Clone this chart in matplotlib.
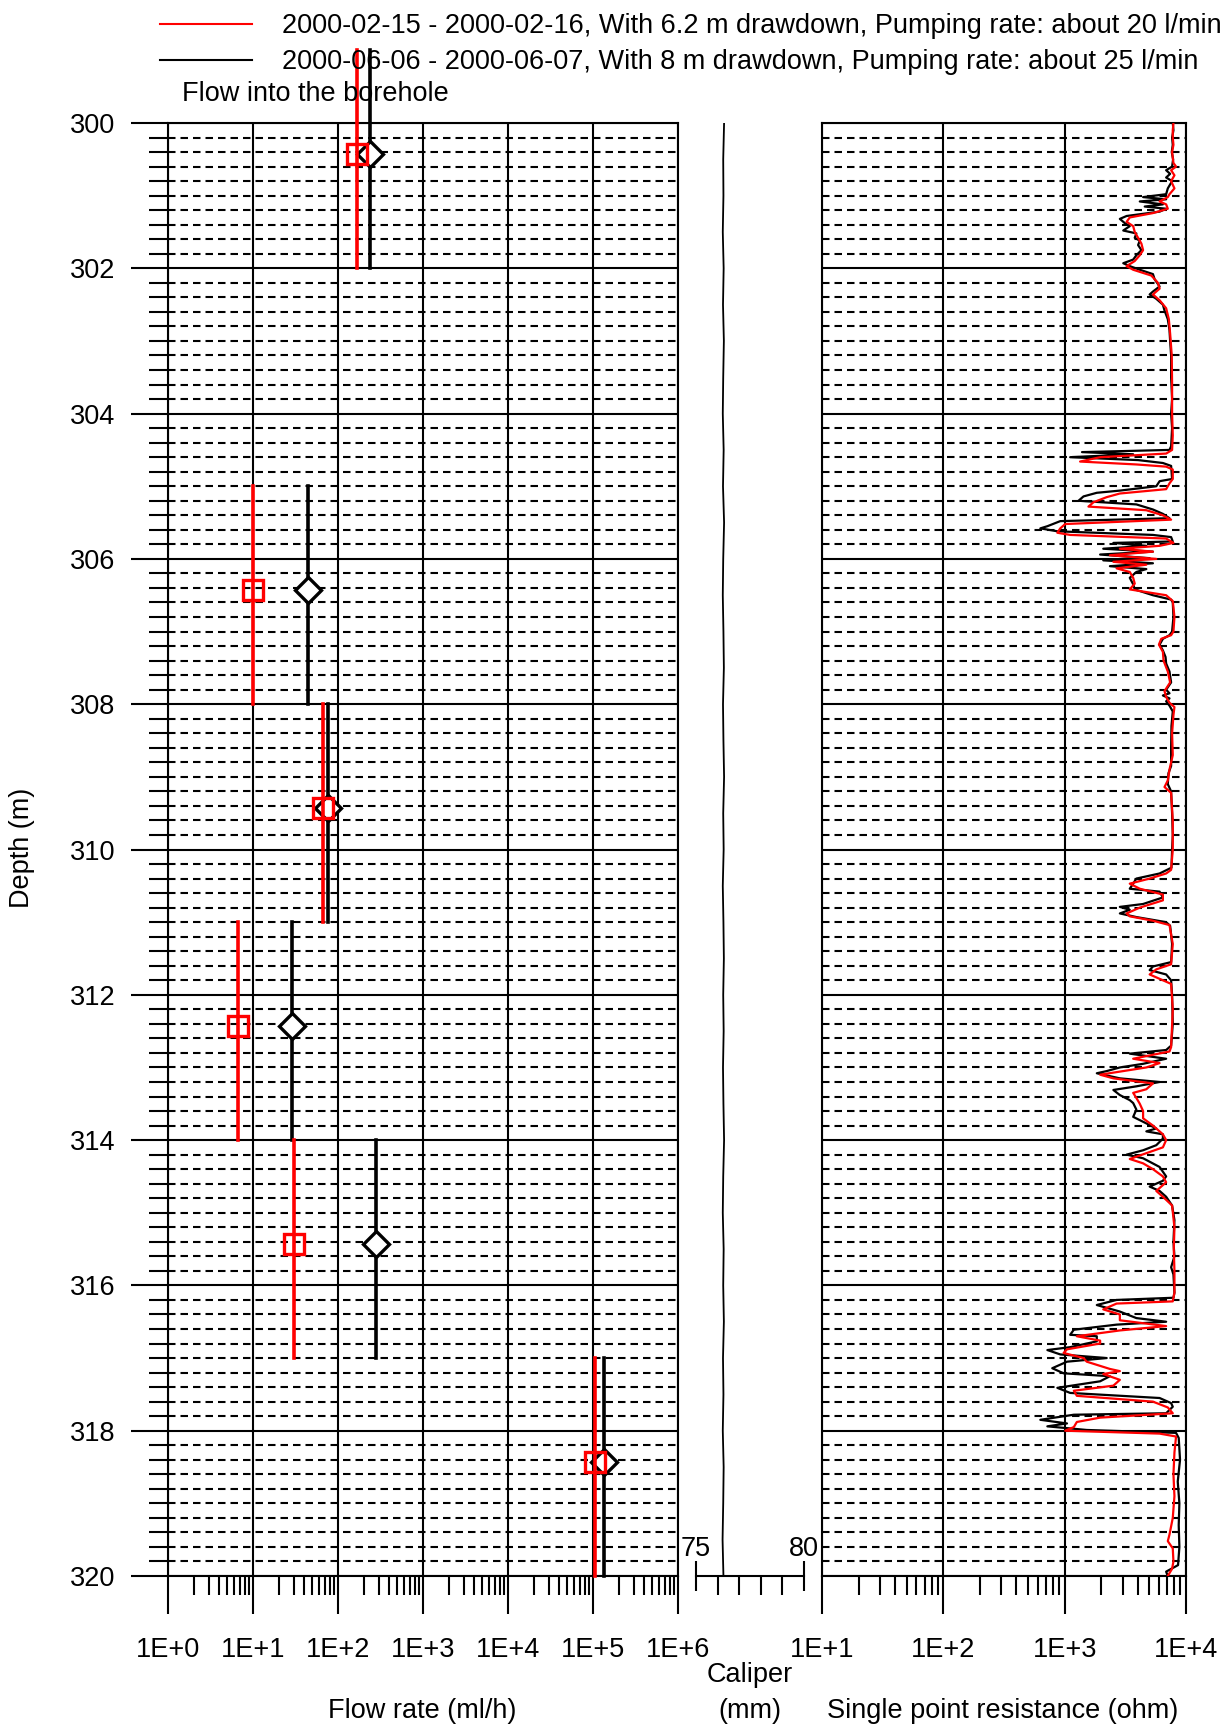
import numpy as np
import matplotlib
matplotlib.use("Agg")
import matplotlib.pyplot as plt
from matplotlib.lines import Line2D
from matplotlib.ticker import LogLocator, MultipleLocator, NullFormatter

plt.rcParams['font.family'] = ['Liberation Sans', 'DejaVu Sans']

# ── flow into the borehole (test sections, ml/h) ──
sec_top = [299, 305, 308, 311, 314, 317]
sec_bot = [302, 308, 311, 314, 317, 320]
mark_depth = [300.43, 306.43, 309.43, 312.43, 315.43, 318.43]
flow_feb = [166, 10.1, 66, 6.6, 30.3, 1.07e5]
flow_jun = [235, 44.7, 76.5, 28.6, 278, 1.33e5]

lbl_feb = "2000-02-15 - 2000-02-16, With 6.2 m drawdown, Pumping rate: about 20 l/min"
lbl_jun = "2000-06-06 - 2000-06-07, With 8 m drawdown, Pumping rate: about 25 l/min"

# ── caliper (mm) ──
cal_depth = [300.0 + 0.5 * i for i in range(41)]
cal_mm = [76.30, 76.26, 76.27, 76.24, 76.28, 76.25, 76.29, 76.26, 76.24, 76.28,
          76.25, 76.30, 76.26, 76.24, 76.27, 76.29, 76.25, 76.27, 76.30, 76.26,
          76.28, 76.24, 76.27, 76.29, 76.26, 76.28, 76.25, 76.27, 76.30, 76.26,
          76.24, 76.28, 76.26, 76.29, 76.25, 76.27, 76.24, 76.28, 76.26, 76.23, 76.27]

# ── single point resistance (ohm), June run (black) ──
spr_jun_depth = [
    300.00, 300.10, 300.20, 300.30, 300.40, 300.50, 300.60, 300.65, 300.70, 300.75,
    300.80, 300.90, 300.98, 301.02, 301.05, 301.08, 301.12, 301.15, 301.18, 301.22,
    301.28, 301.32, 301.38, 301.42, 301.48, 301.52, 301.58, 301.62, 301.68, 301.75,
    301.82, 301.88, 301.93, 301.97, 302.02, 302.08, 302.15, 302.25, 302.32, 302.36,
    302.42, 302.50, 302.58, 302.70, 302.85, 303.00, 303.20, 303.50, 303.80, 304.00,
    304.20, 304.45, 304.50, 304.53, 304.56, 304.60, 304.64, 304.68, 304.72, 304.90,
    304.93, 305.00, 305.06, 305.09, 305.14, 305.20, 305.25, 305.32, 305.38, 305.44,
    305.48, 305.55, 305.58, 305.62, 305.67, 305.70, 305.76, 305.78, 305.82, 305.86,
    305.90, 305.94, 305.99, 306.02, 306.06, 306.10, 306.14, 306.18, 306.26, 306.35,
    306.42, 306.50, 306.56, 306.60, 306.80, 307.00, 307.05, 307.10, 307.18, 307.26,
    307.35, 307.44, 307.55, 307.70, 307.80, 307.85, 307.88, 307.92, 307.96, 308.02,
    308.10, 308.30, 308.60, 308.85, 308.95, 309.10, 309.20, 309.50, 309.80, 310.00,
    310.25, 310.33, 310.40, 310.47, 310.54, 310.58, 310.66, 310.75, 310.79, 310.83,
    310.88, 310.93, 311.00, 311.05, 311.30, 311.55, 311.61, 311.66, 311.72, 311.80,
    312.00, 312.40, 312.70, 312.76, 312.81, 312.88, 312.95, 313.00, 313.05, 313.08,
    313.15, 313.20, 313.26, 313.31, 313.38, 313.45, 313.49, 313.58, 313.68, 313.77,
    313.84, 313.88, 313.92, 313.98, 314.07, 314.14, 314.20, 314.25, 314.37, 314.50,
    314.56, 314.64, 314.70, 314.78, 314.90, 315.10, 315.40, 315.60, 315.75, 315.85,
    316.10, 316.17, 316.20, 316.27, 316.36, 316.45, 316.50, 316.54, 316.61, 316.68,
    316.70, 316.77, 316.85, 316.89, 316.95, 317.00, 317.05, 317.14, 317.21, 317.25,
    317.32, 317.41, 317.48, 317.55, 317.62, 317.67, 317.76, 317.78, 317.85, 317.90,
    317.94, 317.99, 318.03, 318.10, 318.40, 318.70, 319.00, 319.30, 319.60, 319.85,
    319.94, 320.00]
spr_jun_ohm = [
    7780, 7880, 7680, 7780, 7630, 7830, 7680, 6860, 7400, 6860,
    7680, 7080, 6860, 4430, 6860, 4160, 6450, 4570, 6860, 6060,
    3240, 2850, 3140, 3440, 3040, 3900, 3780, 4160, 4030, 4290,
    3900, 3670, 3040, 3440, 4160, 5340, 5510, 6060, 5340, 5020,
    5690, 6450, 6650, 7080, 7310, 7400, 7540, 7540, 7680, 7540,
    7680, 7540, 7310, 1390, 3670, 1110, 4030, 6450, 7540, 7680,
    6060, 5690, 2850, 1840, 1430, 1300, 3900, 5340, 6450, 7310,
    920, 720, 630, 870, 5340, 7540, 7780, 2520, 4710, 2080,
    5340, 1960, 5020, 2080, 5340, 2360, 4710, 3900, 3440, 3670,
    3780, 5340, 7540, 7780, 7880, 7680, 7310, 6450, 6060, 6450,
    6780, 6860, 7310, 7540, 6860, 7310, 6450, 7310, 6860, 7310,
    7780, 7590, 7540, 7540, 7170, 7080, 7540, 7680, 7780, 7680,
    7590, 6060, 3900, 3670, 3440, 6060, 6450, 4430, 2850, 3440,
    2850, 3900, 6860, 7400, 7680, 7540, 5340, 5020, 6860, 7540,
    7680, 7780, 7540, 6860, 3440, 6860, 4430, 2850, 2220, 1840,
    2850, 6060, 3900, 2520, 2850, 3440, 3670, 3900, 3670, 4710,
    5690, 4710, 6450, 6450, 5690, 4430, 3240, 4430, 6060, 6860,
    6450, 5020, 6060, 6860, 7680, 8030, 7880, 8030, 7540, 7880,
    8030, 7880, 2680, 1840, 2850, 3900, 6860, 2680, 1190, 1110,
    1840, 1840, 1110, 720, 920, 2220, 1045, 790, 980, 2360,
    1960, 870, 1110, 6060, 7540, 7780, 6860, 1190, 630, 1045,
    720, 1520, 8280, 8710, 8930, 8550, 8820, 8710, 8820, 8600,
    6860, 7080]

# ── single point resistance (ohm), February run (red) ──
spr_feb_depth = [
    300.00, 300.10, 300.20, 300.30, 300.40, 300.55, 300.60, 300.65, 300.72, 300.80,
    300.90, 300.98, 301.02, 301.08, 301.12, 301.18, 301.24, 301.30, 301.36, 301.42,
    301.50, 301.58, 301.66, 301.75, 301.82, 301.90, 301.97, 302.02, 302.10, 302.20,
    302.28, 302.36, 302.44, 302.55, 302.70, 302.90, 303.20, 303.60, 304.00, 304.30,
    304.50, 304.55, 304.60, 304.66, 304.70, 304.73, 304.77, 304.90, 304.96, 305.04,
    305.10, 305.15, 305.22, 305.28, 305.33, 305.40, 305.46, 305.52, 305.58, 305.64,
    305.67, 305.72, 305.78, 305.82, 305.86, 305.90, 305.95, 306.00, 306.04, 306.08,
    306.13, 306.18, 306.26, 306.34, 306.42, 306.50, 306.58, 306.80, 307.00, 307.05,
    307.10, 307.18, 307.28, 307.40, 307.55, 307.70, 307.82, 307.90, 307.98, 308.04,
    308.15, 308.40, 308.70, 308.90, 309.05, 309.14, 309.22, 309.60, 310.00, 310.28,
    310.33, 310.40, 310.47, 310.54, 310.62, 310.70, 310.80, 310.88, 310.92, 310.98,
    311.04, 311.30, 311.58, 311.65, 311.72, 311.78, 311.85, 312.20, 312.72, 312.78,
    312.88, 312.94, 313.00, 313.10, 313.15, 313.22, 313.30, 313.35, 313.42, 313.50,
    313.60, 313.70, 313.80, 313.92, 314.00, 314.10, 314.18, 314.26, 314.32, 314.40,
    314.50, 314.58, 314.70, 314.78, 314.90, 315.20, 315.50, 315.80, 316.10, 316.22,
    316.25, 316.33, 316.40, 316.48, 316.56, 316.62, 316.70, 316.76, 316.80, 316.88,
    316.93, 317.00, 317.05, 317.15, 317.18, 317.22, 317.30, 317.38, 317.45, 317.52,
    317.60, 317.68, 317.76, 317.82, 317.88, 317.95, 318.00, 318.04, 318.08, 318.30,
    318.60, 318.90, 319.20, 319.43, 319.52, 319.62, 319.80, 319.90, 320.00]
spr_feb_ohm = [
    7880, 7780, 7780, 7880, 7680, 7880, 8280, 7540, 8030, 7540,
    8030, 7310, 7080, 6060, 6860, 7080, 5340, 3440, 3240, 3670,
    3780, 4030, 4290, 4430, 4160, 3780, 3240, 3670, 5180, 5870,
    6060, 5340, 6060, 6860, 7220, 7400, 7630, 7680, 7680, 7780,
    7680, 6860, 1960, 1340, 3900, 6860, 7780, 7780, 7310, 6860,
    2850, 2220, 1730, 1570, 4710, 6450, 7540, 1010, 920, 870,
    1110, 6860, 7880, 6060, 2850, 5340, 2360, 5690, 2520, 4710,
    2680, 3440, 3670, 3780, 3440, 6860, 7780, 8030, 7880, 7540,
    6250, 5980, 6450, 6530, 7080, 7400, 6650, 6860, 7310, 8030,
    7880, 7680, 7780, 7310, 7080, 6650, 7540, 7780, 7780, 7540,
    6860, 5020, 3440, 4160, 6450, 6450, 4160, 3240, 3440, 5340,
    7310, 7780, 7540, 5690, 5020, 6060, 7540, 7780, 7540, 7310,
    3670, 6060, 4710, 1960, 2520, 5340, 4710, 3670, 3900, 4160,
    4430, 4430, 5340, 6450, 6860, 6450, 4710, 3440, 4430, 5340,
    6450, 6860, 5690, 6450, 7680, 8030, 7930, 8030, 8030, 7780,
    2680, 2080, 2850, 2850, 6860, 2850, 1260, 1960, 1960, 1045,
    980, 1430, 1520, 2360, 2850, 2080, 2850, 2520, 1190, 1260,
    5340, 7080, 7780, 1960, 1260, 1190, 1010, 6060, 8280, 8030,
    7880, 8030, 7780, 7310, 7080, 7780, 7880, 7680, 7080]

flow_ticks = [1e0, 1e1, 1e2, 1e3, 1e4, 1e5, 1e6]
flow_ticklabels = ["1E+0", "1E+1", "1E+2", "1E+3", "1E+4", "1E+5", "1E+6"]
spr_ticks = [1e1, 1e2, 1e3, 1e4]
spr_ticklabels = ["1E+1", "1E+2", "1E+3", "1E+4"]
depth_ticks = list(range(300, 321, 2))
cal_ticks = [75, 80]

FS = 19.5
LW = 1.5
DASH = (0, (3.6, 2.4))
W, H = 1225, 1727

fig = plt.figure(figsize=(W / 100, H / 100), dpi=100)
y0, hgt = 1 - 1576 / H, 1453 / H
ax1 = fig.add_axes([168 / W, y0, 510 / W, hgt])
ax2 = fig.add_axes([696 / W, y0, 108 / W, hgt])
ax3 = fig.add_axes([822 / W, y0, 364 / W, hgt])


def style_log_panel(ax, lo, hi, ticks, labels):
    ax.set_xscale("log")
    ax.set_xlim(lo, hi)
    ax.set_ylim(320, 300)
    ax.set_xticks(ticks, labels)
    ax.xaxis.set_minor_locator(LogLocator(base=10, subs=np.arange(2, 10), numticks=20))
    ax.xaxis.set_minor_formatter(NullFormatter())
    ax.yaxis.set_major_locator(MultipleLocator(2))
    ax.yaxis.set_minor_locator(MultipleLocator(0.2))
    ax.grid(which="major", color="k", lw=LW, ls="-")
    ax.grid(which="minor", axis="y", color="k", lw=LW, ls=DASH)
    ax.tick_params(axis="x", which="major", direction="out", length=27, width=LW,
                   pad=17, labelsize=FS, top=False)
    ax.tick_params(axis="x", which="minor", direction="out", length=13.5, width=LW, top=False)
    for s in ax.spines.values():
        s.set_linewidth(LW)
    ax.set_axisbelow(True)


# ── flow panel ──
style_log_panel(ax1, 1e0, 1e6, flow_ticks, flow_ticklabels)
ax1.set_yticks(depth_ticks, [str(d) for d in depth_ticks])
ax1.tick_params(axis="y", which="major", direction="out", length=27, width=LW, pad=11,
                labelsize=FS, right=False)
ax1.tick_params(axis="y", which="minor", direction="out", length=13.5, width=LW, right=False)

for t, b, d, q in zip(sec_top, sec_bot, mark_depth, flow_jun):
    ax1.plot([q, q], [t, b], color="k", lw=2.6, clip_on=False, zorder=5)
    ax1.plot(q, d, marker="D", ms=13, mfc="white", mec="k", mew=2.4, clip_on=False, zorder=6)
for t, b, d, q in zip(sec_top, sec_bot, mark_depth, flow_feb):
    ax1.plot([q, q], [t, b], color="#ff0000", lw=2.6, clip_on=False, zorder=7)
    ax1.plot(q, d, marker="s", ms=14, mfc="none", mec="#ff0000", mew=2.4, clip_on=False, zorder=8)

# ── caliper panel ──
ax2.plot(cal_mm, cal_depth, color="k", lw=1.3)
ax2.set_xlim(75, 80)
ax2.set_ylim(320, 300)
for side in ["top", "left", "right"]:
    ax2.spines[side].set_visible(False)
ax2.spines["bottom"].set_linewidth(LW)
ax2.set_yticks([])
ax2.set_xticks(cal_ticks, ["", ""])
ax2.xaxis.set_minor_locator(MultipleLocator(1))
ax2.tick_params(axis="x", which="major", direction="inout", length=22, width=LW)
ax2.tick_params(axis="x", which="minor", direction="out", length=13.5, width=LW)
for v in cal_ticks:
    ax2.annotate(str(v), xy=(v, 0), xycoords=ax2.get_xaxis_transform(),
                 xytext=(0, 10), textcoords="offset points", ha="center", va="bottom",
                 fontsize=FS)
ax2.patch.set_visible(False)

# ── single point resistance panel ──
style_log_panel(ax3, 1e1, 1e4, spr_ticks, spr_ticklabels)
ax3.tick_params(axis="y", which="both", left=False, right=False, labelleft=False)
ax3.plot(spr_jun_ohm, spr_jun_depth, color="k", lw=1.6, zorder=3)
ax3.plot(spr_feb_ohm, spr_feb_depth, color="#ff0000", lw=1.6, zorder=4)

# ── texts and legend ──
fig.legend(handles=[Line2D([], [], color="#ff0000", lw=1.5), Line2D([], [], color="k", lw=1.5)],
           labels=[lbl_feb, lbl_jun], loc="upper left", bbox_to_anchor=(160 / W, 1 - 13 / H),
           frameon=False, fontsize=FS, handlelength=3.4, handletextpad=1.1,
           labelspacing=0.38, borderpad=0, borderaxespad=0)
fig.text(182 / W, 1 - 94 / H, "Flow into the borehole", fontsize=FS, va="center", ha="left")
fig.text(22 / W, 1 - 848 / H, "Depth (m)", fontsize=FS, rotation=90, va="center", ha="center")
fig.text(422 / W, 1 - 1711 / H, "Flow rate (ml/h)", fontsize=FS, va="center", ha="center")
fig.text(750 / W, 1 - 1675 / H, "Caliper", fontsize=FS, va="center", ha="center")
fig.text(750 / W, 1 - 1711 / H, "(mm)", fontsize=FS, va="center", ha="center")
fig.text(1003 / W, 1 - 1711 / H, "Single point resistance (ohm)", fontsize=FS,
         va="center", ha="center")

fig.savefig("out.png", dpi=100)
